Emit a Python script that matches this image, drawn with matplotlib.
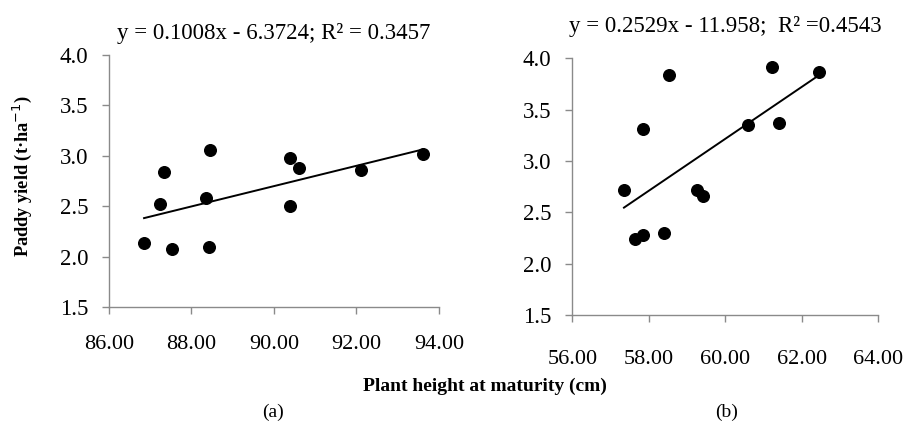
import matplotlib.pyplot as plt

plt.rcParams['font.family'] = ['Liberation Serif', 'DejaVu Serif']

# Plant height at maturity (cm) and paddy yield (t/ha), season (a)
height_a = [86.85, 87.24, 87.34, 87.52, 88.34, 88.46, 88.42, 90.40, 90.61, 90.40, 92.10, 93.62]
yield_a = [2.14, 2.52, 2.84, 2.08, 2.58, 3.06, 2.10, 2.98, 2.88, 2.50, 2.86, 3.02]

# Season (b)
height_b = [57.35, 57.65, 57.86, 57.85, 58.41, 58.52, 59.26, 59.41, 60.60, 61.23, 61.41, 62.46]
yield_b = [2.72, 2.24, 2.28, 3.31, 2.30, 3.84, 2.72, 2.66, 3.35, 3.92, 3.37, 3.87]

# Fitted regression lines (slope, intercept)
fit_a = (0.1008, -6.3724)
fit_b = (0.2529, -11.958)
eq_a = "y = 0.1008x - 6.3724; R\u00b2 = 0.3457"
eq_b = "y = 0.2529x - 11.958;  R\u00b2 =0.4543"

xticks_a = [86, 88, 90, 92, 94]
xticks_b = [56, 58, 60, 62, 64]
yticks = [1.5, 2.0, 2.5, 3.0, 3.5, 4.0]

fig = plt.figure(figsize=(9.06, 4.30), dpi=100)
ax_a = fig.add_axes([0.1203, 0.2860, 0.3642, 0.5860])
ax_b = fig.add_axes([0.6317, 0.2674, 0.3377, 0.5970])

spine_col = '#8a8a8a'


def draw_panel(ax, xs, ys, fit, xticks, eq, title_y, xpad):
    ax.scatter(xs, ys, s=70, color='black', zorder=3)
    x0, x1 = min(xs), max(xs)
    a, b = fit
    ax.plot([x0, x1], [a * x0 + b, a * x1 + b], color='black', lw=1.4)
    ax.set_xlim(xticks[0], xticks[-1])
    ax.set_ylim(1.5, 4.0)
    ax.set_xticks(xticks)
    ax.set_xticklabels([f"{t:.2f}" for t in xticks])
    ax.set_yticks(yticks)
    ax.set_yticklabels([f"{t:.1f}" for t in yticks])
    for side in ('top', 'right'):
        ax.spines[side].set_visible(False)
    for side in ('left', 'bottom'):
        ax.spines[side].set_color(spine_col)
        ax.spines[side].set_linewidth(1.0)
    ax.tick_params(axis='x', direction='out', length=5, width=1.0, color=spine_col,
                   labelsize=16, pad=xpad)
    ax.tick_params(axis='y', direction='out', length=5, width=1.0, color=spine_col,
                   labelsize=16.5, pad=10)
    ax.set_title(eq, fontsize=16.5, y=title_y)


draw_panel(ax_a, height_a, yield_a, fit_a, xticks_a, eq_a, 1.03, 15)
draw_panel(ax_b, height_b, yield_b, fit_b, xticks_b, eq_b, 1.07, 20)

fig.text(0.025, 0.590, "Paddy yield (t\u00b7ha$^{-1}$)", rotation=90, fontsize=13.2,
         fontweight='bold', ha='center', va='center')
fig.text(0.535, 0.102, "Plant height at maturity (cm)", fontsize=14,
         fontweight='bold', ha='center', va='center')
fig.text(0.301, 0.040, "(a)", fontsize=14, ha='center', va='center')
fig.text(0.802, 0.040, "(b)", fontsize=14, ha='center', va='center')

fig.savefig("out.png", dpi=100)
